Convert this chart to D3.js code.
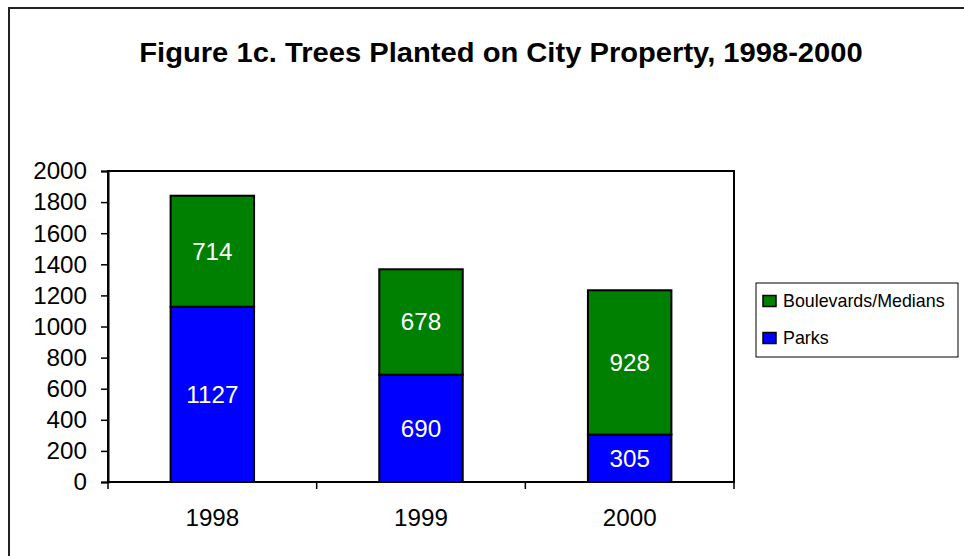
<!DOCTYPE html>
<html>
<head>
<meta charset="utf-8">
<script src="https://cdn.jsdelivr.net/npm/d3@7"></script>
<style>
  body { margin: 0; background: #fff; }
  text { font-family: "Liberation Sans", Arial, sans-serif; }
</style>
</head>
<body>
<div id="chart"></div>
<script>
const years = ["1998", "1999", "2000"];
const parks = [1127, 690, 305];
const boulevards = [714, 678, 928];
const seriesNames = ["Parks", "Boulevards/Medians"];
const seriesColors = ["#0000ff", "#008000"];
const yTicks = [0, 200, 400, 600, 800, 1000, 1200, 1400, 1600, 1800, 2000];

const width = 964, height = 556;
const plot = { left: 108, right: 734, top: 171, bottom: 482 };
const sx = 1.03; // text in the picture is a touch wider than plain Arial

const svg = d3.select("#chart").append("svg")
  .attr("width", width)
  .attr("height", height);

// helper: text stretched horizontally around its anchor point
function label(sel, x, y, str, size, opts = {}) {
  return sel.append("text")
    .attr("transform", `translate(${x},${y}) scale(${opts.sx || sx},1)`)
    .attr("text-anchor", opts.anchor || "middle")
    .attr("dominant-baseline", "central")
    .attr("font-size", size)
    .attr("font-weight", opts.weight || "normal")
    .attr("fill", opts.fill || "#000")
    .text(str);
}

// outer frame (runs off the right/bottom edge like the original)
svg.append("rect")
  .attr("x", 9).attr("y", 8)
  .attr("width", 980).attr("height", 580)
  .attr("fill", "none")
  .attr("stroke", "#222")
  .attr("stroke-width", 2);

label(svg, 501, 52, "Figure 1c. Trees Planted on City Property, 1998-2000", 27.5, { weight: "bold", sx: 1.06 });

const x = d3.scaleBand()
  .domain(years)
  .range([plot.left, plot.right])
  .paddingInner(0.6)
  .paddingOuter(0.3);

const y = d3.scaleLinear()
  .domain([0, 2000])
  .range([plot.bottom, plot.top]);

// plot area
svg.append("rect")
  .attr("x", plot.left).attr("y", plot.top)
  .attr("width", plot.right - plot.left)
  .attr("height", plot.bottom - plot.top)
  .attr("fill", "#fff")
  .attr("stroke", "#000")
  .attr("stroke-width", 2);

// y axis
const yAxis = svg.append("g")
  .attr("transform", `translate(${plot.left},0)`)
  .call(d3.axisLeft(y).tickValues(yTicks).tickSize(7).tickFormat(""));
yAxis.select(".domain").attr("stroke-width", 2);
yAxis.selectAll(".tick line").attr("stroke-width", 1.5);
yTicks.forEach(t => label(svg, 87, y(t), t, 23.5, { anchor: "end" }));

// x axis ticks at category boundaries
const bounds = years.map(d => x(d) - x.step() * x.paddingOuter()).concat([plot.right]);
svg.append("g").selectAll("line")
  .data(bounds)
  .join("line")
    .attr("x1", d => d).attr("x2", d => d)
    .attr("y1", plot.bottom).attr("y2", plot.bottom + 7)
    .attr("stroke", "#000")
    .attr("stroke-width", 1.5);
years.forEach(d => label(svg, x(d) + x.bandwidth() / 2, 518, d, 23.5));

// stacked bars
const rows = years.map((d, i) => ({ year: d, Parks: parks[i], "Boulevards/Medians": boulevards[i] }));
const stack = d3.stack().keys(seriesNames)(rows);

const layers = svg.append("g").selectAll("g")
  .data(stack)
  .join("g")
    .attr("fill", (d, i) => seriesColors[i]);

layers.selectAll("rect")
  .data(d => d)
  .join("rect")
    .attr("x", d => x(d.data.year))
    .attr("y", d => y(d[1]))
    .attr("width", x.bandwidth())
    .attr("height", d => y(d[0]) - y(d[1]))
    .attr("stroke", "#000")
    .attr("stroke-width", 2);

stack.forEach(layer => {
  layer.forEach(d => {
    label(svg, x(d.data.year) + x.bandwidth() / 2, (y(d[0]) + y(d[1])) / 2,
      d[1] - d[0], 23.5, { fill: "#fff" });
  });
});

// legend
const legend = svg.append("g").attr("transform", "translate(756,283)");
legend.append("rect")
  .attr("width", 202).attr("height", 74)
  .attr("fill", "#fff")
  .attr("stroke", "#000")
  .attr("stroke-width", 1);
const legendItems = [1, 0]; // boulevards on top
legendItems.forEach((si, k) => {
  const cy = 18 + k * 37;
  legend.append("rect")
    .attr("x", 7).attr("y", cy - 5.5)
    .attr("width", 13).attr("height", 11)
    .attr("fill", seriesColors[si])
    .attr("stroke", "#000")
    .attr("stroke-width", 1.5);
  label(legend, 27, cy, seriesNames[si], 17.5, { anchor: "start", sx: 1.02 });
});
</script>
</body>
</html>
